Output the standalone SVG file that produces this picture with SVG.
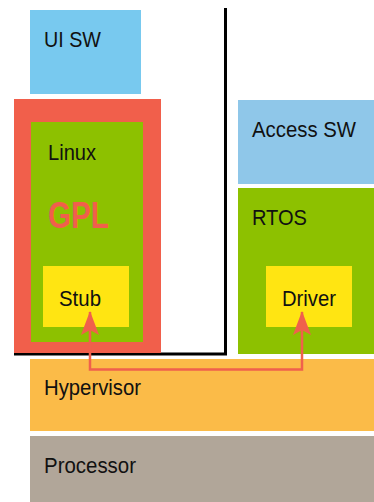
<svg xmlns="http://www.w3.org/2000/svg" width="374" height="502" viewBox="0 0 374 502">
<style>
text{font-family:"Liberation Sans",Arial,sans-serif;font-size:22px;fill:#111}
.gpl{font-weight:bold;font-size:36px;fill:#F15F4B}
.conn{fill:none;stroke:#F0604C;stroke-width:2.5}
</style>
<defs>
<marker id="ah" viewBox="0 0 24 20" refX="23" refY="10" markerWidth="24" markerHeight="20" markerUnits="userSpaceOnUse" orient="auto-start-reverse">
<path d="M0,1 L24,10 L0,19 L5,10 Z" fill="#F0604C"/>
</marker>
</defs>
<rect width="374" height="502" fill="#fff"/>
<g id="ui-sw"><rect x="30" y="10" width="111" height="84" fill="#78C9EF"/><text x="44" y="47" textLength="57" lengthAdjust="spacingAndGlyphs">UI SW</text></g>
<g id="boundary"><path d="M225.5,8 V354 H14" fill="none" stroke="#000" stroke-width="3"/></g>
<g id="gpl-box"><rect x="14" y="99" width="147" height="254" fill="#F15F4B"/></g>
<g id="linux"><rect x="31" y="122" width="112" height="220" fill="#8DC100"/><text x="48" y="160" textLength="48" lengthAdjust="spacingAndGlyphs">Linux</text><text class="gpl" x="48" y="228" textLength="61" lengthAdjust="spacingAndGlyphs">GPL</text></g>
<g id="stub"><rect x="43" y="266" width="86" height="61" fill="#FFE512"/><text x="59" y="306" textLength="42" lengthAdjust="spacingAndGlyphs">Stub</text></g>
<g id="access-sw"><rect x="238" y="100" width="136" height="84" fill="#8FC7E9"/><text x="252" y="137" textLength="104" lengthAdjust="spacingAndGlyphs">Access SW</text></g>
<g id="rtos"><rect x="238" y="188" width="136" height="166" fill="#8DC100"/><text x="252" y="225" textLength="55" lengthAdjust="spacingAndGlyphs">RTOS</text></g>
<g id="driver"><rect x="266" y="266" width="86" height="61" fill="#FFE512"/><text x="282" y="306" textLength="54" lengthAdjust="spacingAndGlyphs">Driver</text></g>
<g id="hypervisor"><rect x="30" y="359" width="344" height="72" fill="#FBBB48"/><text x="44" y="395" textLength="97" lengthAdjust="spacingAndGlyphs">Hypervisor</text></g>
<g id="processor"><rect x="30" y="436" width="344" height="66" fill="#B1A699"/><text x="44" y="473" textLength="92" lengthAdjust="spacingAndGlyphs">Processor</text></g>
<g id="connectors"><path class="conn" d="M90,312 V369.5 H302 V312" marker-start="url(#ah)" marker-end="url(#ah)"/></g>
</svg>
